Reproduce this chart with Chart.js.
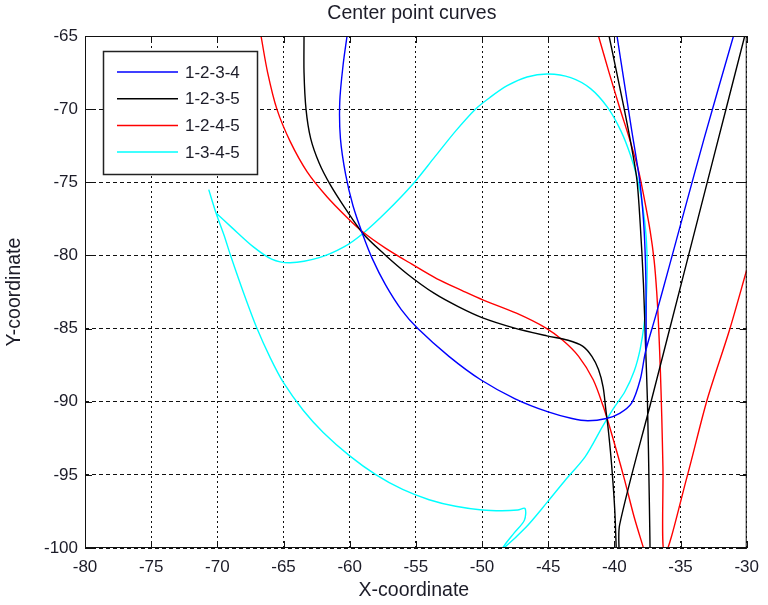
<!DOCTYPE html>
<html>
<head>
<meta charset="utf-8">
<script src="https://cdn.jsdelivr.net/npm/chart.js@4.4.0/dist/chart.umd.min.js"></script>
<style>
  html, body { margin: 0; padding: 0; background: #fff; }
  #wrap { width: 768px; height: 605px; }
</style>
</head>
<body>
<div id="wrap"><canvas id="c" width="768" height="605"></canvas></div>
<script>
// Axis ranges and tick labels
const xTicks = [-80, -75, -70, -65, -60, -55, -50, -45, -40, -35, -30];
const yTicks = [-100, -95, -90, -85, -80, -75, -70, -65];

const seriesNames = ['1-2-3-4', '1-2-3-5', '1-2-4-5', '1-3-4-5'];
const seriesColors = ['#0000ff', '#000000', '#ff0000', '#00ffff'];

// 1-2-3-4 (null separates branches)
const blueX = [-60.2, -60.5, -60.75, -60.7, -60.3, -59.75, -59.0, -58.3, -57.3, -56.1, -54.85, -52.5, -50.1, -47.5, -45.0, -43.2, -42.0, -40.6, -39.6, -38.7, -38.05, -37.65, -36.9, -35.9, -34.7, -33.2, -31.0,
  null,
  -39.8, -39.2, -38.7, -38.1, -37.8, -37.65, -37.6, -37.6];
const blueY = [-65, -67, -69.5, -72, -74.5, -76.6, -78.6, -80.2, -82, -83.7, -85, -86.9, -88.5, -89.8, -90.7, -91.15, -91.3, -91.15, -90.8, -90.1, -88.5, -86.6, -84.2, -80.9, -76.9, -71.95, -65,
  null,
  -65, -68.5, -71.4, -74.8, -77.6, -80.5, -83.5, -86.5];

// 1-2-3-5
const blackX = [-63.45, -63.45, -63.3, -62.95, -62.3, -61.45, -60.4, -59.0, -57.4, -55.6, -53.6, -51.8, -50.0, -47.6, -45.1, -43.5, -42.4, -41.7, -41.2, -40.85, -40.65, -40.45, -40.2, -39.97, -39.85,
  null,
  -39.65, -39.6, -37.2, -34.85, -32.5, -30.15,
  null,
  -40.4, -39.3, -38.7, -38.3, -38.05, -37.8, -37.65, -37.5, -37.36, -37.3];
const blackY = [-65, -67.5, -70, -72, -73.7, -75.2, -76.7, -78.5, -79.9, -81.3, -82.6, -83.5, -84.25, -84.95, -85.5, -85.8, -86.2, -86.9, -87.8, -89.0, -90.5, -92.0, -94.4, -97.4, -100.3,
  null,
  -100.3, -98.4, -89.9, -81.6, -73.3, -65,
  null,
  -65, -69.8, -72.6, -74.8, -77.8, -82, -86, -90, -96.7, -100.3];

// 1-2-4-5
const redX = [-66.7, -66.2, -65.5, -64.5, -63.2, -61.7, -60.2, -59.0, -57.3, -55.3, -53.4, -51.5, -49.9, -47.4, -45.2, -43.9, -42.7, -41.6, -40.85, -40.3, -39.3, -38.5, -37.8,
  null,
  -41.2, -40.4, -39.6, -38.8, -38.15, -37.7, -37.3, -37.0, -36.8, -36.65, -36.52, -36.42, -36.33, -36.2, -34.5, -33.0, -31.3, -30.0];
const redY = [-65, -67.5, -70, -72.2, -74.3, -76.0, -77.4, -78.4, -79.5, -80.6, -81.6, -82.4, -83.05, -83.95, -84.95, -85.8, -86.9, -88.5, -90.3, -91.9, -95.1, -97.9, -100,
  null,
  -65, -67.5, -69.9, -72.2, -74.3, -76.3, -78.3, -80.3, -82.5, -85, -88, -91, -94.5, -100.4, -95.1, -89.9, -85.1, -81.0];

// 1-3-4-5
const cyanX = [-70.65, -70.1, -69.5, -69.0, -68.0, -67.0, -66.0, -65.0, -63.5, -62.0, -60.0, -58.0, -56.0, -54.0, -52.0, -50.0, -48.5, -47.3, -46.75, -46.8, -47.6, -48.3, -48.55,
  -46.7, -45.1, -43.7, -42.2, -40.9, -40.1, -39.2, -38.5, -38.05, -37.75, -37.58, -37.52, -37.6, -37.85, -38.25, -38.8, -39.5, -40.5, -41.8, -43.3, -45.0, -46.6, -48.1, -49.4, -50.5, -52.0, -53.6, -55.2, -57.2, -59.0, -60.4, -62.3, -64.5, -65.9, -67.3, -68.9, -70.1];
const cyanY = [-75.5, -77.1, -78.6, -80.0, -82.6, -85.0, -87.0, -88.7, -90.6, -92.1, -93.7, -95.0, -96.0, -96.7, -97.15, -97.4, -97.45, -97.4, -97.3, -98.1, -99.0, -99.8, -100.15,
  -98.6, -96.9, -95.35, -93.75, -91.7, -90.5, -89.3, -87.9, -86.4, -84.7, -82.8, -80.8, -78.7, -76.7, -74.8, -73.1, -71.5, -69.9, -68.6, -67.85, -67.6, -67.8, -68.4, -69.2, -70.0, -71.5, -73.3, -75.1, -77.0, -78.5, -79.4, -80.15, -80.5, -80.25, -79.4, -78.1, -77.1];

function toPoints(xs, ys) {
  return xs.map((x, i) => ({ x: x === null ? xs[i - 1] : x, y: ys[i] }));
}

const allX = [blueX, blackX, redX, cyanX];
const allY = [blueY, blackY, redY, cyanY];

const datasets = seriesNames.map((name, i) => ({
  label: name,
  data: toPoints(allX[i], allY[i]),
  borderColor: seriesColors[i],
  backgroundColor: seriesColors[i],
  borderWidth: 1.4,
  pointRadius: 0,
  showLine: true,
  fill: false,
  tension: 0.3,
  spanGaps: false,
  clip: 0
}));

const FONT = '"Liberation Sans", Arial, sans-serif';
const TEXT = '#1c1c28';

// Frame, inward tick marks, titles and the boxed legend
const decor = {
  id: 'decor',
  afterDraw(chart) {
    const { ctx, chartArea: a, scales } = chart;
    ctx.save();
    ctx.strokeStyle = '#111';
    ctx.lineWidth = 1;
    ctx.setLineDash([]);
    ctx.strokeRect(a.left + 0.5, a.top + 0.5, a.right - a.left - 1, a.bottom - a.top - 1);
    const tl = 7;
    ctx.beginPath();
    xTicks.forEach(v => {
      const px = Math.round(scales.x.getPixelForValue(v)) + 0.5;
      ctx.moveTo(px, a.bottom); ctx.lineTo(px, a.bottom - tl);
      ctx.moveTo(px, a.top); ctx.lineTo(px, a.top + tl);
    });
    yTicks.forEach(v => {
      const py = Math.round(scales.y.getPixelForValue(v)) + 0.5;
      ctx.moveTo(a.left, py); ctx.lineTo(a.left + tl, py);
      ctx.moveTo(a.right, py); ctx.lineTo(a.right - tl, py);
    });
    ctx.stroke();

    ctx.fillStyle = TEXT;
    ctx.font = '19.5px ' + FONT;
    ctx.textAlign = 'center';
    ctx.textBaseline = 'middle';
    ctx.fillText('Center point curves', (a.left + a.right) / 2 - 4, 14);
    ctx.fillText('X-coordinate', (a.left + a.right) / 2 - 2, 591);
    ctx.save();
    ctx.translate(15, (a.top + a.bottom) / 2);
    ctx.rotate(-Math.PI / 2);
    ctx.fillText('Y-coordinate', 0, 0);
    ctx.restore();

    // legend box
    const bx = 103, by = 51, bw = 154, bh = 123;
    ctx.fillStyle = '#fff';
    ctx.fillRect(bx, by, bw, bh);
    ctx.strokeStyle = '#222';
    ctx.lineWidth = 1.5;
    ctx.strokeRect(bx + 0.5, by + 0.5, bw, bh);
    ctx.textAlign = 'left';
    ctx.font = '17px ' + FONT;
    chart.data.datasets.forEach((ds, i) => {
      const y = 72 + i * 26.7;
      ctx.strokeStyle = ds.borderColor;
      ctx.lineWidth = 1.5;
      ctx.beginPath();
      ctx.moveTo(117, y); ctx.lineTo(178, y);
      ctx.stroke();
      ctx.fillStyle = TEXT;
      ctx.fillText(ds.label, 185, y + 1);
    });
    ctx.restore();
  }
};

new Chart(document.getElementById('c'), {
  type: 'scatter',
  data: { datasets },
  options: {
    responsive: false,
    devicePixelRatio: 1,
    animation: false,
    layout: { padding: { top: 36, right: 11, left: 0, bottom: 0 } },
    plugins: { legend: { display: false }, title: { display: false }, tooltip: { enabled: false } },
    scales: {
      x: {
        type: 'linear', min: -80, max: -30,
        afterFit(s) { s.height = 57; },
        afterBuildTicks(s) { s.ticks = xTicks.map(v => ({ value: v })); },
        grid: { color: '#111', lineWidth: 1, drawTicks: false },
        border: { display: false, dash: [2, 3] },
        ticks: { color: TEXT, font: { family: FONT, size: 17 }, padding: 9, maxRotation: 0 }
      },
      y: {
        type: 'linear', min: -100, max: -65,
        afterFit(s) { s.width = 85; },
        afterBuildTicks(s) { s.ticks = yTicks.map(v => ({ value: v })); },
        grid: { color: '#111', lineWidth: 1, drawTicks: false },
        border: { display: false, dash: [4, 3] },
        ticks: { color: TEXT, font: { family: FONT, size: 17 }, padding: 7 }
      }
    }
  },
  plugins: [decor]
});
</script>
</body>
</html>
